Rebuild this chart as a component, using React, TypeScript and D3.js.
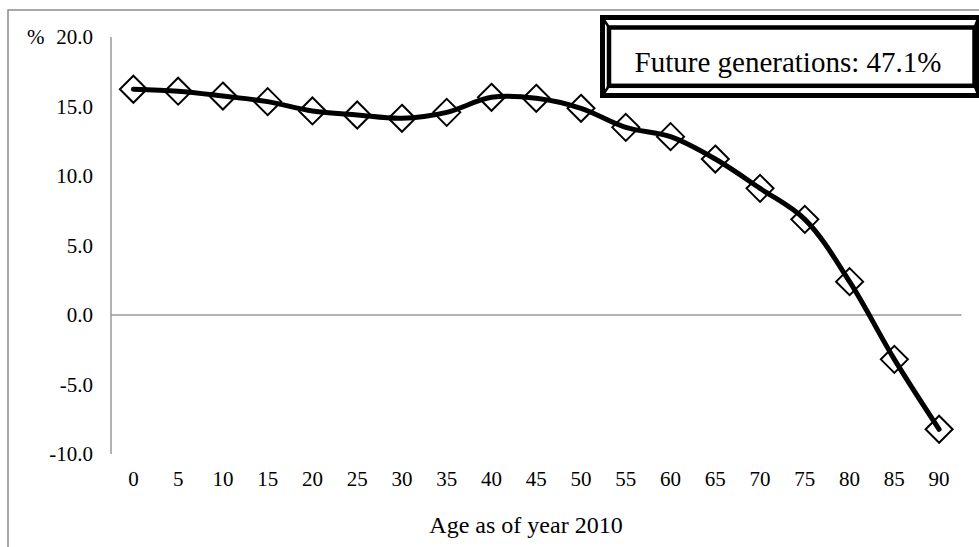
import React, { useEffect, useRef } from 'react';
import * as d3 from 'd3';

// ages (x categories)
const ages = ['0', '5', '10', '15', '20', '25', '30', '35', '40', '45', '50', '55', '60', '65', '70', '75', '80', '85', '90'];
// values in %
const values = [16.24, 16.1, 15.75, 15.35, 14.68, 14.39, 14.15, 14.58, 15.66, 15.59, 14.87, 13.5, 12.83, 11.22, 9.11, 6.88, 2.4, -3.19, -8.22];
const yTicks = [-10, -5, 0, 5, 10, 15, 20];
const legendText = 'Future generations: 47.1%';
const xTitle = 'Age as of year 2010';

const FONT = '"Liberation Serif", "Times New Roman", serif';

export default function App() {
  const ref = useRef<SVGSVGElement>(null);

  useEffect(() => {
    const width = 979;
    const height = 547;
    const plot = { left: 111, right: 961.5, top: 37, bottom: 454 };

    const svg = d3.select(ref.current);
    svg.selectAll('*').remove();
    svg.attr('width', width).attr('height', height);

    svg.append('rect').attr('width', width).attr('height', height).attr('fill', '#fff');

    // chart border
    svg
      .append('rect')
      .attr('x', 8)
      .attr('y', 10)
      .attr('width', 1000)
      .attr('height', 600)
      .attr('fill', 'none')
      .attr('stroke', '#8c8c8c')
      .attr('stroke-width', 1.5);

    const x = d3.scaleBand().domain(ages).range([plot.left, plot.right]).padding(0);
    const y = d3.scaleLinear().domain([-10, 20]).range([plot.bottom, plot.top]);
    const cx = (a: string) => (x(a) as number) + x.bandwidth() / 2;

    // y axis line + zero line
    svg
      .append('line')
      .attr('x1', plot.left)
      .attr('x2', plot.left)
      .attr('y1', y(20))
      .attr('y2', y(-10))
      .attr('stroke', '#999')
      .attr('stroke-width', 1.5);
    svg
      .append('line')
      .attr('x1', plot.left)
      .attr('x2', plot.right)
      .attr('y1', y(0))
      .attr('y2', y(0))
      .attr('stroke', '#999')
      .attr('stroke-width', 1.5);

    // y tick labels (plain hyphen for negatives, like the original)
    svg
      .append('g')
      .selectAll('text')
      .data(yTicks)
      .join('text')
      .attr('x', 93)
      .attr('y', (d) => y(d))
      .attr('dy', '0.35em')
      .attr('text-anchor', 'end')
      .style('font-family', FONT)
      .style('font-size', '21px')
      .text((d) => d.toFixed(1));

    svg
      .append('text')
      .attr('x', 27)
      .attr('y', y(20))
      .attr('dy', '0.35em')
      .style('font-family', FONT)
      .style('font-size', '21px')
      .text('%');

    // x tick labels
    svg
      .append('g')
      .selectAll('text')
      .data(ages)
      .join('text')
      .attr('x', (d) => cx(d))
      .attr('y', 486)
      .attr('text-anchor', 'middle')
      .style('font-family', FONT)
      .style('font-size', '21px')
      .text((d) => d);

    svg
      .append('text')
      .attr('x', 526)
      .attr('y', 533)
      .attr('text-anchor', 'middle')
      .style('font-family', FONT)
      .style('font-size', '24px')
      .text(xTitle);

    // series line
    const pts = ages.map((a, i) => [cx(a), y(values[i])] as [number, number]);
    const line = d3.line().curve(d3.curveCatmullRom.alpha(0.5));
    svg
      .append('path')
      .attr('d', line(pts))
      .attr('fill', 'none')
      .attr('stroke', '#000')
      .attr('stroke-width', 5)
      .attr('stroke-linejoin', 'round')
      .attr('stroke-linecap', 'round');

    // diamond markers
    const r = 13.5;
    svg
      .append('g')
      .selectAll('path')
      .data(pts)
      .join('path')
      .attr('d', ([px, py]) => `M${px},${py - r}L${px + r},${py}L${px},${py + r}L${px - r},${py}Z`)
      .attr('fill', 'none')
      .attr('stroke', '#000')
      .attr('stroke-width', 2);

    // legend box with double frame
    const box = { x0: 600, y0: 15, x1: 981, y1: 98 };
    const inner = { x0: 609, y0: 27.5, x1: 974.5, y1: 85.8 };
    svg
      .append('rect')
      .attr('x', box.x0 + 2.5)
      .attr('y', box.y0 + 2.5)
      .attr('width', box.x1 - box.x0 - 5)
      .attr('height', box.y1 - box.y0 - 5)
      .attr('fill', '#fff')
      .attr('stroke', '#000')
      .attr('stroke-width', 5);
    svg
      .append('rect')
      .attr('x', inner.x0)
      .attr('y', inner.y0)
      .attr('width', inner.x1 - inner.x0)
      .attr('height', inner.y1 - inner.y0)
      .attr('fill', '#fff')
      .attr('stroke', '#000')
      .attr('stroke-width', 4.5);
    const corners = [
      [box.x0 + 2.5, box.y0 + 2.5, inner.x0, inner.y0],
      [box.x1 - 2.5, box.y0 + 2.5, inner.x1, inner.y0],
      [box.x0 + 2.5, box.y1 - 2.5, inner.x0, inner.y1],
      [box.x1 - 2.5, box.y1 - 2.5, inner.x1, inner.y1],
    ];
    svg
      .append('g')
      .selectAll('line')
      .data(corners)
      .join('line')
      .attr('x1', (d) => d[0])
      .attr('y1', (d) => d[1])
      .attr('x2', (d) => d[2])
      .attr('y2', (d) => d[3])
      .attr('stroke', '#000')
      .attr('stroke-width', 2.5);

    svg
      .append('text')
      .attr('x', 788)
      .attr('y', 72)
      .attr('text-anchor', 'middle')
      .style('font-family', FONT)
      .style('font-size', '29px')
      .text(legendText);
  }, []);

  return (
    <div style={{ position: 'absolute', left: 0, top: 0 }}>
      <svg ref={ref} style={{ display: 'block' }}></svg>
    </div>
  );
}
